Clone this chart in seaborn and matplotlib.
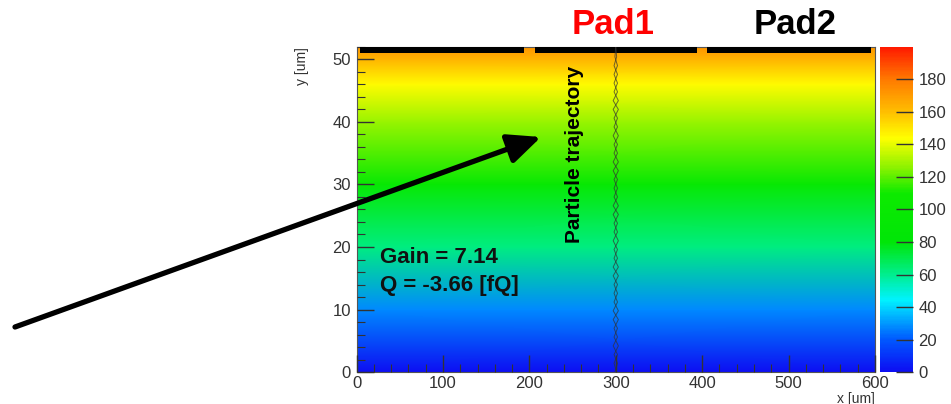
import numpy as np
import matplotlib
matplotlib.use("Agg")
import matplotlib.pyplot as plt
import seaborn as sns
from matplotlib.colors import LinearSegmentedColormap

sns.set_theme(style="ticks")
plt.rcParams['font.family'] = ['Liberation Sans', 'DejaVu Sans']

# ---- data ----
y_levels = [0, 10, 20, 30, 40, 46, 50, 52]              # um
field_vals = [0, 28, 62, 97, 128, 145, 163, 172]        # colour-scale value at each y level
x_edges = [0, 600]                                      # um
pad_starts = [4, 206, 406]
pad_ends = [194, 394, 596]
pad_names = ["Pad1", "Pad2"]
traj_y = [0, 1.4, 2.8, 4.2, 5.6, 7.0, 8.4, 9.8, 11.2, 12.6, 14.0, 15.4, 16.8, 18.2,
          19.6, 21.0, 22.4, 23.8, 25.2, 26.6, 28.0, 29.4, 30.8, 32.2, 33.6, 35.0,
          36.4, 37.8, 39.2, 40.6, 42.0, 43.4, 44.8, 46.2, 47.6, 49.0, 50.4, 52.0]
traj_x1 = [299, 302, 298, 303, 298, 302, 297, 303, 298, 302, 298, 303, 297, 302,
           298, 303, 298, 302, 297, 303, 298, 302, 298, 303, 297, 302, 298, 303,
           298, 302, 297, 303, 298, 302, 298, 302, 299, 300]
traj_x2 = [301, 298, 302, 297, 302, 298, 303, 297, 302, 298, 302, 297, 303, 298,
           302, 297, 302, 298, 303, 297, 302, 298, 302, 297, 303, 298, 302, 297,
           302, 298, 303, 297, 302, 298, 302, 298, 301, 300]
cbar_ticks = [0, 20, 40, 60, 80, 100, 120, 140, 160, 180]
x_ticks = [0, 100, 200, 300, 400, 500, 600]
y_ticks = [0, 10, 20, 30, 40, 50]
gain_text = "Gain = 7.14"
q_text = "Q = -3.66 [fQ]"

# ---- colormap (ROOT-like rainbow) ----
cmap = LinearSegmentedColormap.from_list("rootrain", [
    (0.00, (0.05, 0.05, 0.95)),
    (0.10, (0.00, 0.35, 1.00)),
    (0.22, (0.00, 0.95, 1.00)),
    (0.31, (0.00, 0.93, 0.50)),
    (0.40, (0.00, 0.90, 0.03)),
    (0.55, (0.05, 0.92, 0.00)),
    (0.63, (0.55, 0.95, 0.00)),
    (0.72, (1.00, 1.00, 0.00)),
    (0.80, (1.00, 0.75, 0.00)),
    (0.90, (1.00, 0.48, 0.00)),
    (1.00, (1.00, 0.10, 0.00)),
])

fig = plt.figure(figsize=(9.51, 4.04), dpi=100)
ax = fig.add_axes([0.375, 0.079, 0.545, 0.805])
cax = fig.add_axes([0.925, 0.079, 0.035, 0.805])
ax.set_axisbelow(False)
cax.set_axisbelow(False)

X, Y = np.meshgrid(x_edges, y_levels)
Z = np.array([[v, v] for v in field_vals])
mesh = ax.pcolormesh(X, Y, Z, cmap=cmap, vmin=0, vmax=200, shading='gouraud')
ax.set_xlim(0, 600)
ax.set_ylim(0, 52)

# pads
for s, e in zip(pad_starts, pad_ends):
    ax.fill_between([s, e], 51.0, 52.0, color='black', lw=0, zorder=3)

# trajectory
ax.plot(traj_x1, traj_y, color='#333333', lw=0.7, alpha=0.7, zorder=4)
ax.plot(traj_x2, traj_y, color='#333333', lw=0.7, alpha=0.7, zorder=4)

# ticks
tc = '#333333'
ax.set_xticks(x_ticks)
ax.set_yticks(y_ticks)
ax.set_xticks(np.arange(0, 601, 20), minor=True)
ax.set_yticks(np.arange(0, 53, 2), minor=True)
ax.tick_params(axis='both', which='major', direction='in', length=12, width=1,
               color=tc, labelsize=12, labelcolor=tc, top=False, right=False)
ax.tick_params(axis='both', which='minor', direction='in', length=6, width=0.8,
               color=tc, top=False, right=False)
ax.tick_params(axis='x', pad=3)
ax.tick_params(axis='y', pad=4)
for sp in ax.spines.values():
    sp.set_color('#555555')
    sp.set_linewidth(0.8)

ax.text(1.0, -0.06, "x [um]", transform=ax.transAxes, ha='right', va='top',
        fontsize=10, color=tc)
ax.text(-0.105, 1.0, "y [um]", transform=ax.transAxes, ha='center', va='top',
        rotation=90, fontsize=10, color=tc)

# colorbar
cb = fig.colorbar(mesh, cax=cax, ticks=cbar_ticks)
cb.outline.set_visible(False)
cax.tick_params(direction='in', length=12, width=1, color=tc, labelsize=12,
                labelcolor=tc, right=True, left=False, pad=4)
cax.minorticks_off()

# texts
ax.text(27, 18.3, gain_text, fontsize=16, fontweight='bold', color='#111111',
        va='center', ha='left')
ax.text(27, 13.9, q_text, fontsize=16, fontweight='bold', color='#111111',
        va='center', ha='left')
ax.text(252, 48.9, "Particle trajectory", rotation=90, fontsize=15,
        fontweight='bold', color='black', ha='center', va='top')

fig.text(613 / 951, 1 - 24 / 404, pad_names[0], fontsize=25, fontweight='bold',
         color='#ff0000', ha='center', va='center')
fig.text(795 / 951, 1 - 24 / 404, pad_names[1], fontsize=25, fontweight='bold',
         color='black', ha='center', va='center')

# arrow
ax.annotate("", xy=(541 / 951, 1 - 137 / 404), xycoords='figure fraction',
            xytext=(15 / 951, 1 - 327 / 404), textcoords='figure fraction',
            arrowprops=dict(arrowstyle='-|>,head_length=1.0,head_width=0.45',
                            color='black', lw=3.8, mutation_scale=20,
                            shrinkA=0, shrinkB=0),
            annotation_clip=False, zorder=10)

fig.savefig("out.png", dpi=100)
